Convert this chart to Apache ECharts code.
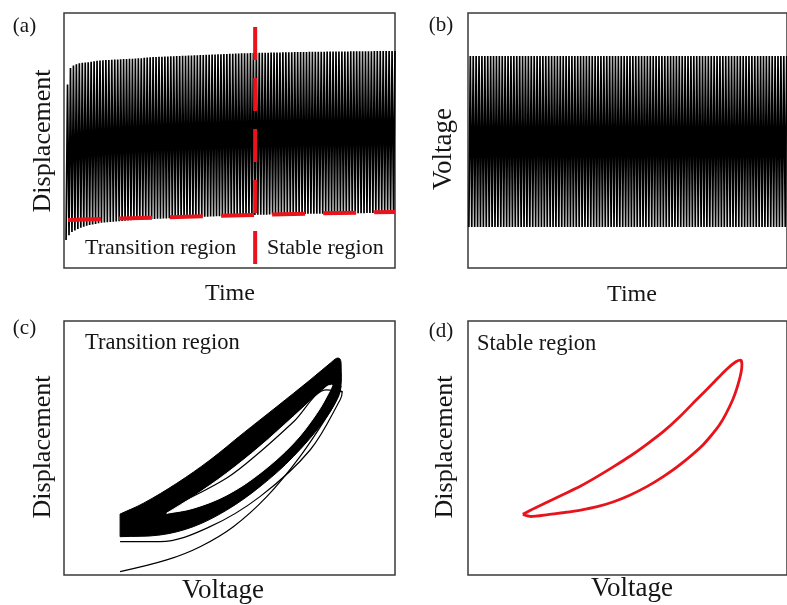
<!DOCTYPE html>
<html>
<head>
<meta charset="utf-8">
<script src="https://cdn.jsdelivr.net/npm/echarts@6.0.0/dist/echarts.min.js"></script>
<style>
  html, body { margin: 0; padding: 0; background: #fff; }
  #main { width: 787px; height: 605px; }
</style>
</head>
<body>
<div id="main"></div>
<script>
// (a) displacement vs time: peak / trough of every cycle (0-100 = bottom-top of box)
const dispPeaks = [
  72.0, 78.4, 79.4, 79.9, 80.3, 80.5, 80.6, 80.7, 80.9, 81.1,
  81.3, 81.4, 81.5, 81.6, 81.6, 81.7, 81.8, 81.8, 81.9, 82.0,
  82.0, 82.1, 82.1, 82.2, 82.3, 82.3, 82.4, 82.5, 82.6, 82.7,
  82.7, 82.8, 82.8, 82.9, 82.9, 83.0, 83.0, 83.1, 83.1, 83.2,
  83.2, 83.3, 83.3, 83.4, 83.4, 83.5, 83.5, 83.6, 83.6, 83.7,
  83.7, 83.8, 83.8, 83.9, 83.9, 84.0, 84.0, 84.1, 84.1, 84.2,
  84.2, 84.2, 84.3, 84.3, 84.3, 84.4, 84.4, 84.4, 84.4, 84.5,
  84.5, 84.5, 84.5, 84.6, 84.6, 84.6, 84.6, 84.7, 84.7, 84.7,
  84.7, 84.7, 84.8, 84.8, 84.8, 84.8, 84.8, 84.8, 84.9, 84.9,
  84.9, 84.9, 84.9, 84.9, 84.9, 84.9, 85.0, 85.0, 85.0, 85.0,
  85.0, 85.0, 85.0, 85.0, 85.1, 85.1, 85.1, 85.1, 85.1, 85.1, 85.1, 85.1
];
const dispTroughs = [
  11.0, 12.8, 14.1, 14.7, 15.3, 15.8, 16.2, 16.6, 16.9, 17.1,
  17.3, 17.6, 17.7, 17.8, 17.9, 18.0, 18.1, 18.2, 18.3, 18.4,
  18.5, 18.6, 18.7, 18.8, 18.9, 18.9, 19.0, 19.1, 19.1, 19.2,
  19.2, 19.3, 19.3, 19.4, 19.4, 19.5, 19.5, 19.6, 19.6, 19.7,
  19.7, 19.8, 19.8, 19.9, 19.9, 20.0, 20.0, 20.1, 20.1, 20.2,
  20.2, 20.3, 20.3, 20.4, 20.4, 20.5, 20.5, 20.6, 20.6, 20.7,
  20.7, 20.7, 20.8, 20.8, 20.8, 20.9, 20.9, 20.9, 20.9, 21.0,
  21.0, 21.0, 21.0, 21.1, 21.1, 21.1, 21.1, 21.2, 21.2, 21.2,
  21.2, 21.2, 21.3, 21.3, 21.3, 21.3, 21.3, 21.3, 21.4, 21.4,
  21.4, 21.4, 21.4, 21.4, 21.5, 21.5, 21.5, 21.5, 21.5, 21.5,
  21.5, 21.5, 21.6, 21.6, 21.6, 21.6, 21.6, 21.6, 21.6, 21.6, 21.6, 21.6
];
// red dashed guide lines in (a)
const envelopeT = [0.7, 64.1, 111.5];
const envelopeD = [18.8, 20.8, 22.0];
const splitT = 64.1;

// (b) voltage: constant amplitude drive
const voltPeak = 83.1;
const voltTrough = 16.1;
const voltCycles = 110;

// (c) transition region: outline of the dense band of overlapping cycles,
// the white gap inside it, and the few early cycles drawn apart
// (a repeated point keeps a corner sharp)
const bandV = [0, 0, 10.6, 25.8, 40.9, 56.0, 71.2, 86.4, 95.5, 98.5, 100, 100.5, 100, 94.0, 78.8, 63.6, 48.5, 33.3, 18.2, 0, 0];
const bandD = [0.6, 0.6, 7.6, 20.6, 35.7, 53.1, 70.3, 87.7, 98.5, 101.8, 101.3, 97.4, 81.2, 63.8, 37.9, 18.4, 3.2, -7.6, -13.0, -14.1, -14.1];
const gapV = [21.2, 21.2, 33.3, 48.5, 63.6, 78.8, 94.0, 96.4, 96.4, 95.5, 89.4, 78.8, 63.6, 48.5, 33.3];
const gapD = [1.1, 1.1, 11.9, 27.1, 44.4, 63.8, 83.3, 84.4, 84.4, 81.2, 66.0, 46.6, 27.1, 13.0, 4.4];
const earlyLoopV = [0, 18.2, 40.9, 63.6, 86.4, 100, 101, 94.0, 78.8, 63.6, 48.5, 25.0, 15];
const earlyLoopD = [-17.3, -17.3, -7.6, 11.9, 42.2, 74.7, 80.0, 81.2, 60.4, 40.9, 24.0, 6.5, 1.5];
const firstRiseV = [0, 21.2, 36.4, 51.5, 66.7, 81.8, 94, 99.2, 100.5];
const firstRiseD = [-36.8, -29.2, -20.6, -7.6, 11.9, 37.9, 63.8, 76.8, 84];

// (d) stable region loop
const stableV = [0, 3.8, 11.4, 19.1, 26.7, 34.3, 41.9, 49.6, 57.2, 64.8, 72.4, 80.0, 87.7, 93.7, 98.3, 100.6, 101.1,
  99.9, 96.8, 90.7, 83.1, 72.4, 64.8, 57.2, 49.6, 41.9, 34.3, 26.7, 19.1, 11.4, 3.8, 0];
const stableD = [0.4, 3.3, 8.4, 13.6, 18.8, 24.9, 31.4, 38.3, 45.9, 54.1, 63.8, 74.7, 85.5, 94.2, 99.5, 100.6, 97.4,
  87.7, 74.7, 58.4, 45.5, 32.5, 24.9, 18.4, 13.0, 8.6, 5.4, 3.2, 1.6, 0.2, -1.0, 0.4];

const chart = echarts.init(document.getElementById('main'));

const dispData = [];
dispPeaks.forEach((p, k) => {
  dispData.push([k, dispTroughs[k]]);
  dispData.push([k + 0.5, p]);
});
const voltData = [];
for (let k = 0; k < voltCycles; k++) {
  voltData.push([k, voltTrough]);
  voltData.push([k + 0.5, voltPeak]);
}

const RED = '#e8141c';
const SERIF = '"Liberation Serif", "Times New Roman", serif';

function shapeSeries(xs, ys, fill, z) {
  return {
    type: 'custom', xAxisIndex: 2, yAxisIndex: 2, z: z, silent: true, clip: false,
    data: [[xs[0], ys[0]]],
    renderItem: function (params, api) {
      return {
        type: 'polygon',
        shape: { points: xs.map((v, i) => api.coord([v, ys[i]])), smooth: 0.35 },
        style: { fill: fill, stroke: fill, lineWidth: 1 }
      };
    }
  };
}
function thinLine(xs, ys, z) {
  return {
    type: 'line', xAxisIndex: 2, yAxisIndex: 2, z: z,
    data: xs.map((v, i) => [v, ys[i]]),
    symbol: 'none', smooth: 0.35,
    lineStyle: { color: '#000', width: 1.2 }
  };
}

function txt(text, x, y, size, opts) {
  return Object.assign({
    type: 'text', x: x, y: y, silent: true,
    style: {
      text: text, font: size + 'px ' + SERIF, fill: '#151515',
      align: 'center', verticalAlign: 'middle',
      textAlign: 'center', textVerticalAlign: 'middle'
    }
  }, opts || {});
}
function leftTxt(text, x, y, size) {
  const t = txt(text, x, y, size);
  t.style.align = 'left';
  t.style.textAlign = 'left';
  return t;
}
const ROT = { rotation: Math.PI / 2 };

const box = { show: true, borderColor: '#3a3a3a', borderWidth: 1.5, backgroundColor: '#fff' };

const option = {
  animation: false,
  backgroundColor: '#fff',
  grid: [
    Object.assign({ left: 64, top: 13, width: 331, height: 255 }, box),
    Object.assign({ left: 468, top: 13, width: 322, height: 255 }, box),
    Object.assign({ left: 64, top: 321, width: 331, height: 254 }, box),
    Object.assign({ left: 468, top: 321, width: 322, height: 254 }, box)
  ],
  xAxis: [
    { gridIndex: 0, type: 'value', show: false, min: -0.7, max: 111.5 },
    { gridIndex: 1, type: 'value', show: false, min: -0.3, max: 109.6 },
    { gridIndex: 2, type: 'value', show: false, min: -25.5, max: 125 },
    { gridIndex: 3, type: 'value', show: false, min: -25.3, max: 121.9 }
  ],
  yAxis: [
    { gridIndex: 0, type: 'value', show: false, min: 0, max: 100 },
    { gridIndex: 1, type: 'value', show: false, min: 0, max: 100 },
    { gridIndex: 2, type: 'value', show: false, min: -39, max: 126 },
    { gridIndex: 3, type: 'value', show: false, min: -39, max: 126 }
  ],
  series: [
    {
      type: 'line', xAxisIndex: 0, yAxisIndex: 0, data: dispData,
      symbol: 'none', lineStyle: { color: '#000', width: 1.7 }
    },
    {
      type: 'line', xAxisIndex: 0, yAxisIndex: 0, z: 5,
      data: envelopeT.map((t, i) => [t, envelopeD[i]]),
      symbol: 'none', smooth: true,
      lineStyle: { color: RED, width: 4, type: [33, 18] }
    },
    {
      type: 'line', xAxisIndex: 0, yAxisIndex: 0, z: 5,
      data: [[splitT, 94.5], [splitT, 0.4]],
      symbol: 'none',
      lineStyle: { color: RED, width: 4, type: [33, 18] }
    },
    {
      type: 'line', xAxisIndex: 1, yAxisIndex: 1, data: voltData,
      symbol: 'none', lineStyle: { color: '#000', width: 1.7 }
    },
    thinLine(firstRiseV, firstRiseD, 2),
    thinLine(earlyLoopV, earlyLoopD, 2),
    shapeSeries(bandV, bandD, '#000', 3),
    shapeSeries(gapV, gapD, '#fff', 4),
    thinLine(earlyLoopV.slice(6), earlyLoopD.slice(6), 5),
    {
      type: 'line', xAxisIndex: 3, yAxisIndex: 3,
      data: stableV.map((v, j) => [v, stableD[j]]),
      symbol: 'none', smooth: 0.2,
      lineStyle: { color: RED, width: 2.8 }
    }
  ],
  graphic: [
    txt('(a)', 24.5, 26, 21),
    txt('(b)', 441, 25, 21),
    txt('(c)', 24.5, 328, 21),
    txt('(d)', 441, 331, 21),
    txt('Time', 230, 294, 24),
    txt('Time', 632, 295, 24),
    txt('Displacement', 43, 141, 26, ROT),
    txt('Voltage', 444, 149, 27, ROT),
    txt('Displacement', 43, 447, 26, ROT),
    txt('Displacement', 445, 447, 26, ROT),
    txt('Voltage', 223, 591, 27),
    txt('Voltage', 632, 589, 27),
    leftTxt('Transition region', 85, 248, 22),
    leftTxt('Stable region', 267, 248, 22),
    leftTxt('Transition region', 85, 343, 22.5),
    leftTxt('Stable region', 477, 344, 22.5)
  ]
};

chart.setOption(option);
</script>
</body>
</html>
